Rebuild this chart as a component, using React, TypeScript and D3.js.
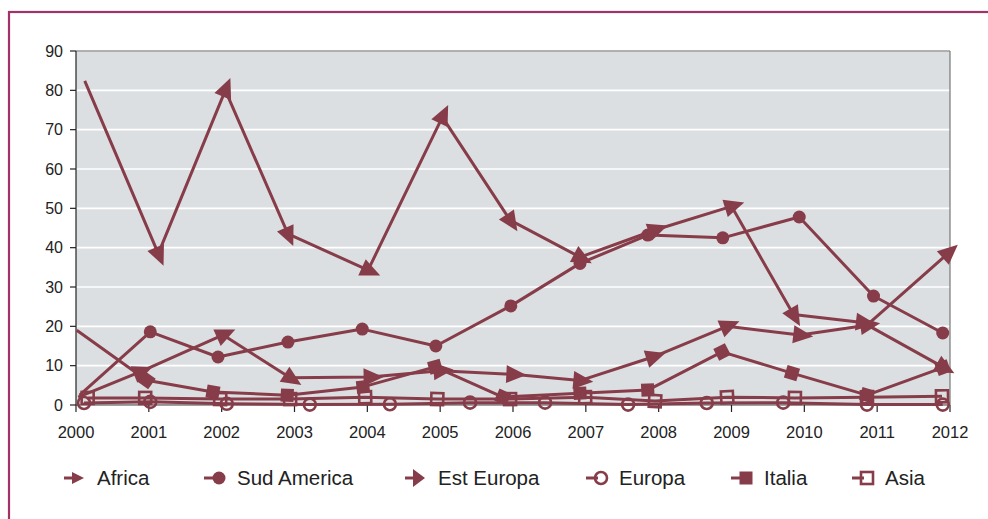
import React from 'react';
import * as d3 from 'd3';

const tickYears = [2000, 2001, 2002, 2003, 2004, 2005, 2006, 2007, 2008, 2009, 2010, 2011, 2012];
const yTicks = [0, 10, 20, 30, 40, 50, 60, 70, 80, 90];

const africaX = [2000.12, 2001.13, 2002.05, 2002.91, 2004.01, 2005.03, 2005.96, 2006.92, 2007.95, 2009.0, 2009.85, 2010.8, 2011.9];
const africaY = [82.4, 38.5, 80, 43.5, 34.3, 73.2, 47, 37.6, 44.5, 50.5, 23, 21, 9.7];

const sudX = [2000.05, 2001.02, 2001.95, 2002.91, 2003.93, 2004.94, 2005.97, 2006.92, 2007.85, 2008.88, 2009.93, 2010.95, 2011.9];
const sudY = [2.5, 18.6, 12.2, 16, 19.3, 15, 25.2, 36, 43.2, 42.5, 47.8, 27.7, 18.3];

const estX = [2000.03, 2000.88, 2002.02, 2002.94, 2004.04, 2005.0, 2006.0, 2006.92, 2007.92, 2008.94, 2009.94, 2010.86, 2011.97];
const estY = [2, 8.4, 17.8, 6.9, 7.1, 8.7, 7.8, 6.2, 12.2, 20, 17.8, 20.3, 38.5];

const europaX = [2000.11, 2001.02, 2002.07, 2003.21, 2004.31, 2005.41, 2006.44, 2007.58, 2008.66, 2009.71, 2010.86, 2011.9];
const europaY = [0.5, 0.8, 0.3, 0.1, 0.2, 0.6, 0.6, 0.1, 0.5, 0.6, 0.1, 0.1];

const italiaX = [2000.01, 2000.97, 2001.88, 2002.9, 2003.94, 2004.93, 2005.86, 2006.92, 2007.85, 2008.87, 2009.83, 2010.86, 2011.9];
const italiaY = [19, 6.3, 3.3, 2.5, 4.6, 9.7, 2, 3, 3.8, 13.5, 8.1, 2.5, 9.5];

const asiaX = [2000.16, 2000.95, 2001.98, 2002.94, 2003.97, 2004.96, 2005.96, 2006.99, 2007.95, 2008.94, 2009.87, 2010.86, 2011.89];
const asiaY = [1.8, 1.8, 1.5, 1.5, 2, 1.5, 1.5, 2, 1, 2, 1.8, 2, 2.2];

type MarkerKind = 'arrow' | 'dot' | 'ring' | 'square' | 'box';

const series: { name: string; xs: number[]; ys: number[]; marker: MarkerKind; first: boolean }[] = [
  { name: 'Africa', xs: africaX, ys: africaY, marker: 'arrow', first: false },
  { name: 'Sud America', xs: sudX, ys: sudY, marker: 'dot', first: false },
  { name: 'Est Europa', xs: estX, ys: estY, marker: 'arrow', first: false },
  { name: 'Europa', xs: europaX, ys: europaY, marker: 'ring', first: true },
  { name: 'Italia', xs: italiaX, ys: italiaY, marker: 'square', first: false },
  { name: 'Asia', xs: asiaX, ys: asiaY, marker: 'box', first: true },
];

const W = 988;
const H = 519;
const COLOR = '#873d49';
const FRAME = '#a0336a';
const FONT = '"Liberation Sans", Arial, Helvetica, sans-serif';

const plot = { left: 76, right: 950, top: 51, bottom: 405 };

function Marker({ kind, x, y, angle }: { kind: MarkerKind; x: number; y: number; angle: number }) {
  const rot = `translate(${x},${y}) rotate(${angle})`;
  if (kind === 'arrow') {
    const L = 20, hw = 9;
    return <path transform={rot} d={`M${(L * 2) / 3},0 L${-L / 3},${-hw} L${-L / 3},${hw} Z`} fill={COLOR} />;
  }
  if (kind === 'dot') return <circle cx={x} cy={y} r={6.5} fill={COLOR} />;
  if (kind === 'ring') return <circle cx={x} cy={y} r={6} fill="none" stroke={COLOR} strokeWidth={2.6} />;
  if (kind === 'square') return <rect transform={rot} x={-6.5} y={-6.5} width={13} height={13} fill={COLOR} />;
  return <rect transform={rot} x={-6} y={-6} width={12} height={12} fill="none" stroke={COLOR} strokeWidth={2.6} />;
}

export default function App() {
  const x = d3.scaleLinear().domain([2000, 2012]).range([plot.left, plot.right]);
  const y = d3.scaleLinear().domain([0, 90]).range([plot.bottom, plot.top]);
  const line = d3.line<[number, number]>().x(d => x(d[0])).y(d => y(d[1]));

  const legendX = [64, 204, 405, 586, 731, 852];
  const legendY = 478;

  return (
    <svg width={W} height={H} style={{ position: 'absolute', left: 0, top: 0 }} fontFamily={FONT}>
      <rect x={0} y={0} width={W} height={H} fill="#fff" />
      <rect x={9} y={12} width={W + 20} height={H + 20} fill="none" stroke={FRAME} strokeWidth={2.2} />

      <rect x={plot.left} y={plot.top} width={plot.right - plot.left} height={plot.bottom - plot.top} fill="#dcdfe2" />
      {yTicks.slice(1).map(t => (
        <line key={t} x1={plot.left} x2={plot.right} y1={y(t)} y2={y(t)} stroke="#fff" strokeWidth={1.6} />
      ))}
      <line x1={plot.left} x2={plot.right} y1={plot.top} y2={plot.top} stroke="#666" strokeWidth={1.2} />
      <line x1={plot.right} x2={plot.right} y1={plot.top} y2={plot.bottom} stroke="#777" strokeWidth={1.2} />
      <line x1={plot.left} x2={plot.left} y1={plot.top} y2={plot.bottom} stroke="#222" strokeWidth={1.2} />
      <line x1={plot.left} x2={plot.right} y1={plot.bottom} y2={plot.bottom} stroke="#444" strokeWidth={1.2} />

      {yTicks.map(t => (
        <g key={t}>
          <line x1={plot.left - 6} x2={plot.left} y1={y(t)} y2={y(t)} stroke="#222" strokeWidth={1.2} />
          <text x={plot.left - 13} y={y(t)} dy="0.36em" textAnchor="end" fontSize={16} fill="#222">{t}</text>
        </g>
      ))}
      {tickYears.map(t => (
        <g key={t}>
          <line x1={x(t)} x2={x(t)} y1={plot.bottom} y2={plot.bottom + 7} stroke="#222" strokeWidth={1.2} />
          <text x={x(t)} y={plot.bottom + 33} textAnchor="middle" fontSize={16.5} fill="#222">{t}</text>
        </g>
      ))}

      {series.map(s => {
        const pts = s.xs.map((v, i) => [v, s.ys[i]] as [number, number]);
        return (
          <g key={s.name}>
            <path d={line(pts) ?? ''} fill="none" stroke={COLOR} strokeWidth={3} strokeLinejoin="round" />
            {pts.map((p, i) => {
              if (i === 0 && !s.first) return null;
              const prev = i > 0 ? pts[i - 1] : pts[1];
              const dx = i > 0 ? x(p[0]) - x(prev[0]) : x(prev[0]) - x(p[0]);
              const dy = i > 0 ? y(p[1]) - y(prev[1]) : y(prev[1]) - y(p[1]);
              const angle = (Math.atan2(dy, dx) * 180) / Math.PI;
              return <Marker key={i} kind={s.marker} x={x(p[0])} y={y(p[1])} angle={angle} />;
            })}
          </g>
        );
      })}

      {series.map((s, i) => {
        const lx = legendX[i];
        return (
          <g key={s.name}>
            <line x1={lx} x2={lx + 12} y1={legendY} y2={legendY} stroke={COLOR} strokeWidth={3} />
            {s.marker === 'arrow' ? (
              <path d={`M${lx + 20},${legendY} L${lx + 8},${legendY - (i === 0 ? 6 : 9)} L${lx + 8},${legendY + (i === 0 ? 6 : 9)} Z`} fill={COLOR} />
            ) : (
              <Marker kind={s.marker} x={lx + 15} y={legendY} angle={0} />
            )}
            <text x={lx + 33} y={legendY} dy="0.36em" fontSize={20.5} fill="#222">{s.name}</text>
          </g>
        );
      })}
    </svg>
  );
}
